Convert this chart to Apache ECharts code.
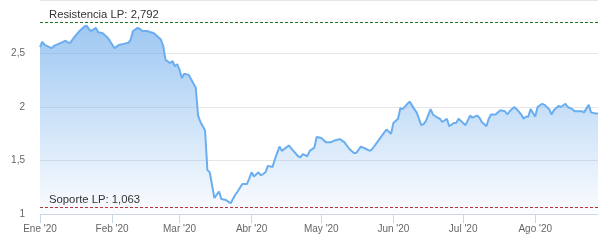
<!DOCTYPE html>
<html>
<head>
<meta charset="utf-8">
<script src="https://cdn.jsdelivr.net/npm/echarts@6/dist/echarts.min.js"></script>
<style>
html,body{margin:0;padding:0;background:#fff;}
#c{width:598px;height:244px;}
</style>
</head>
<body>
<div id="c"></div>
<script>
var dates = [
'2020-01-01','2020-01-02','2020-01-03','2020-01-06','2020-01-07','2020-01-08','2020-01-09','2020-01-10','2020-01-12','2020-01-13','2020-01-14','2020-01-16','2020-01-18','2020-01-20','2020-01-21','2020-01-22','2020-01-23','2020-01-25','2020-01-26','2020-01-28','2020-01-30','2020-01-31',
'2020-02-02','2020-02-04','2020-02-06','2020-02-08','2020-02-09','2020-02-10','2020-02-12','2020-02-13','2020-02-14','2020-02-16','2020-02-19','2020-02-21','2020-02-22','2020-02-23','2020-02-24','2020-02-26','2020-02-27','2020-02-28','2020-02-29',
'2020-03-01','2020-03-02','2020-03-03','2020-03-05','2020-03-06','2020-03-08','2020-03-09','2020-03-10','2020-03-12','2020-03-13','2020-03-14','2020-03-16','2020-03-18','2020-03-19','2020-03-21','2020-03-23','2020-03-25','2020-03-26','2020-03-28','2020-03-30','2020-03-31',
'2020-04-01','2020-04-02','2020-04-04','2020-04-05','2020-04-07','2020-04-08','2020-04-10','2020-04-11','2020-04-13','2020-04-14','2020-04-17','2020-04-19','2020-04-21','2020-04-22','2020-04-23','2020-04-25','2020-04-26','2020-04-28','2020-04-29',
'2020-05-01','2020-05-03','2020-05-05','2020-05-07','2020-05-09','2020-05-11','2020-05-13','2020-05-15','2020-05-16','2020-05-18','2020-05-20','2020-05-22','2020-05-23','2020-05-25','2020-05-27','2020-05-29','2020-05-31',
'2020-06-01','2020-06-03','2020-06-04','2020-06-05','2020-06-07','2020-06-08','2020-06-10','2020-06-11','2020-06-13','2020-06-14','2020-06-15','2020-06-17','2020-06-18','2020-06-20','2020-06-21','2020-06-22','2020-06-24','2020-06-25','2020-06-27','2020-06-28','2020-06-29',
'2020-07-01','2020-07-02','2020-07-04','2020-07-05','2020-07-07','2020-07-08','2020-07-09','2020-07-11','2020-07-12','2020-07-13','2020-07-15','2020-07-16','2020-07-17','2020-07-19','2020-07-20','2020-07-21','2020-07-23','2020-07-24','2020-07-26','2020-07-27','2020-07-28','2020-07-29','2020-07-30',
'2020-08-01','2020-08-02','2020-08-04','2020-08-05','2020-08-07','2020-08-08','2020-08-09','2020-08-11','2020-08-12','2020-08-14','2020-08-15','2020-08-17','2020-08-18','2020-08-19','2020-08-21','2020-08-22','2020-08-24','2020-08-25','2020-08-27','2020-08-28'
];
var values = [
2.56,2.61,2.58,2.55,2.57,2.58,2.59,2.60,2.62,2.60,2.60,2.66,2.71,2.75,2.76,2.73,2.71,2.74,2.70,2.69,2.65,2.62,
2.55,2.58,2.59,2.60,2.63,2.71,2.74,2.73,2.71,2.71,2.69,2.65,2.63,2.57,2.44,2.41,2.43,2.38,2.40,
2.35,2.27,2.31,2.30,2.26,2.18,1.92,1.86,1.78,1.41,1.39,1.15,1.21,1.14,1.13,1.10,1.18,1.21,1.28,1.28,1.33,
1.39,1.35,1.39,1.36,1.39,1.45,1.44,1.51,1.63,1.59,1.64,1.59,1.54,1.53,1.56,1.54,1.59,1.62,1.72,
1.71,1.67,1.67,1.69,1.70,1.67,1.61,1.57,1.57,1.63,1.61,1.59,1.61,1.67,1.73,1.79,1.75,
1.85,1.89,1.99,1.98,2.03,2.05,1.98,1.95,1.83,1.84,1.87,1.98,1.93,1.90,1.89,1.86,1.89,1.82,1.85,1.85,1.89,
1.85,1.83,1.92,1.90,1.92,1.90,1.86,1.82,1.89,1.93,1.93,1.95,1.97,1.96,1.93,1.96,2.00,1.98,1.93,1.89,1.91,1.91,1.98,
1.91,2.00,2.03,2.02,1.98,1.93,1.97,2.01,2.00,2.03,2.00,1.98,1.96,1.96,1.96,1.95,2.02,1.95,1.94,1.94
];
var monthNames = ['Ene','Feb','Mar','Abr','May','Jun','Jul','Ago','Sep','Oct','Nov','Dic'];
var resistencia = 2.792;
var soporte = 1.063;
var resistenciaLabel = 'Resistencia LP: 2,792';
var soporteLabel = 'Soporte LP: 1,063';

var seriesData = dates.map(function(d, i){ return [d, values[i]]; });
var FONT = '"Liberation Sans", Arial, sans-serif';

var chart = echarts.init(document.getElementById('c'), null, {renderer:'canvas'});
chart.setOption({
  animation: false,
  textStyle: {fontFamily: FONT},
  grid: {left: 40, right: 0, top: -1.6, bottom: 30, containLabel: false},
  xAxis: {
    type: 'time',
    min: dates[0],
    max: dates[dates.length-1],
    minInterval: 28*86400000,
    axisLine: {show: true, lineStyle: {color: '#ccd6eb', width: 1}},
    axisTick: {show: true, length: 9, lineStyle: {color: '#ccd6eb'}},
    splitLine: {show: false},
    axisLabel: {
      color: '#666', fontSize: 10, fontFamily: FONT, margin: 10,
      hideOverlap: false,
      formatter: function(v){ var d = new Date(v); return monthNames[d.getMonth()] + " '20"; }
    }
  },
  yAxis: {
    type: 'value',
    min: 1, max: 3, interval: 0.5,
    axisLine: {show: false},
    axisTick: {show: false},
    splitLine: {show: true, lineStyle: {color: '#e6e6e6', width: 1}},
    axisLabel: {
      color: '#666', fontSize: 10, fontFamily: FONT, margin: 15,
      showMaxLabel: false,
      padding: [0,0,8,0],
      formatter: function(v){ return String(v).replace('.', ','); }
    }
  },
  series: [{
    type: 'line',
    data: seriesData,
    showSymbol: false,
    smooth: false,
    lineStyle: {color: '#6aaef0', width: 2},
    itemStyle: {color: '#6aaef0'},
    areaStyle: {
      color: new echarts.graphic.LinearGradient(0, 0, 0, 1, [
        {offset: 0, color: 'rgba(110,172,236,0.95)'},
        {offset: 1, color: 'rgba(110,172,236,0.04)'}
      ])
    },
    markLine: {
      silent: true,
      symbol: ['none','none'],
      data: [
        {yAxis: resistencia, lineStyle: {color: '#1f7a1f', type: [3,2], width: 1},
         label: {formatter: resistenciaLabel}},
        {yAxis: soporte, lineStyle: {color: '#b8343c', type: [3,2], width: 1},
         label: {formatter: soporteLabel}}
      ],
      label: {
        show: true, position: 'insideStartTop', distance: [9, 2],
        color: '#333', fontSize: 11.3, fontFamily: FONT
      }
    }
  }]
});
</script>
</body>
</html>
